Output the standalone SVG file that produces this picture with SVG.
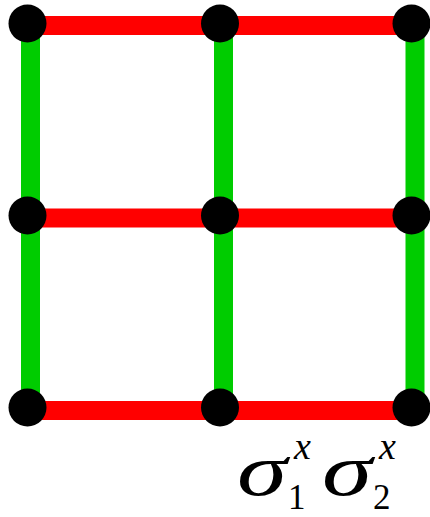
<svg xmlns="http://www.w3.org/2000/svg" width="430" height="517" viewBox="0 0 430 517">
<style>
.h{stroke:#ff0000;stroke-width:19;fill:none}
.v{stroke:#00cc00;stroke-width:19;fill:none}
.d{fill:#000}
.lb{font-family:"Liberation Serif","Times New Roman",serif;fill:#000}
.big{font-size:74px;font-style:italic}
.sub{font-size:35px;font-style:normal}
.sup{font-size:38px;font-style:italic}
</style>
<rect width="430" height="517" fill="#fff"/>
<g id="connectors">
<line class="h" x1="27.5" y1="25.5" x2="411.5" y2="25.5"/>
<line class="h" x1="27.5" y1="218" x2="411.5" y2="218"/>
<line class="h" x1="27.5" y1="410.5" x2="411.5" y2="410.5"/>
<line class="v" x1="30.5" y1="23.5" x2="30.5" y2="407.5"/>
<line class="v" x1="223.5" y1="23.5" x2="223.5" y2="407.5"/>
<line class="v" x1="415" y1="23.5" x2="415" y2="407.5"/>
</g>
<g id="n00"><circle class="d" cx="27.5" cy="23.5" r="19"/></g>
<g id="n01"><circle class="d" cx="220" cy="23.5" r="19"/></g>
<g id="n02"><circle class="d" cx="411.5" cy="23.5" r="19"/></g>
<g id="n10"><circle class="d" cx="27.5" cy="215.5" r="19"/></g>
<g id="n11"><circle class="d" cx="220" cy="215.5" r="19"/></g>
<g id="n12"><circle class="d" cx="411.5" cy="215.5" r="19"/></g>
<g id="n20"><circle class="d" cx="27.5" cy="407.5" r="19"/></g>
<g id="n21"><circle class="d" cx="220" cy="407.5" r="19"/></g>
<g id="n22"><circle class="d" cx="411.5" cy="407.5" r="19"/></g>
<g id="label" class="lb">
<text class="big" x="237" y="495" textLength="50" lengthAdjust="spacingAndGlyphs">σ</text>
<text class="sub" x="288" y="509">1</text>
<text class="sup" x="294" y="459">x</text>
<text class="big" x="322" y="495" textLength="50" lengthAdjust="spacingAndGlyphs">σ</text>
<text class="sub" x="373" y="509">2</text>
<text class="sup" x="379" y="459">x</text>
</g>
</svg>
